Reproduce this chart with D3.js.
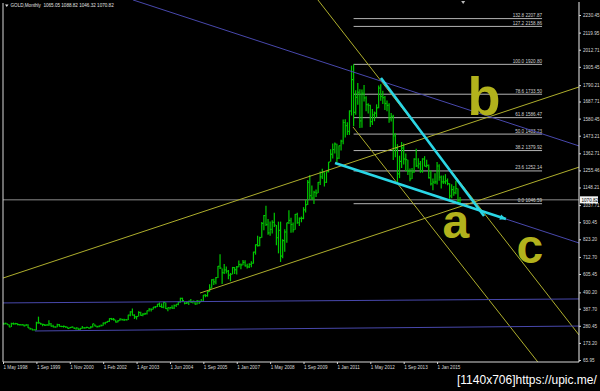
<html>
<head>
<meta charset="utf-8">
<script src="https://d3js.org/d3.v7.min.js"></script>
<style>
    body {
        margin: 0;
        background: #000;
    }

    svg {
        display: block;
    }

    text {
        font-family: "Liberation Sans", "DejaVu Sans", sans-serif;
    }
</style>
</head>

<body>
<div id="chart"></div>

<script>
    // GOLD monthly bars, one entry per bar
    var barHigh = [
        301, 300, 297, 289, 300, 301, 299, 296, 292, 291, 290, 291, 290, 268, 263, 258,
        306, 338, 300, 294, 292, 290, 316, 298, 287, 278, 294, 292, 281, 282, 278, 274,
        271, 276, 272, 269, 268, 267, 279, 272, 274, 271, 278, 293, 291, 281, 283, 288,
        302, 304, 310, 328, 330, 330, 318, 316, 326, 325, 325, 323, 350, 372, 389, 353,
        342, 372, 368, 359, 362, 376, 391, 389, 399, 405, 417, 427, 420, 431, 427, 396,
        397, 409, 414, 416, 430, 456, 457, 430, 432, 437, 449, 438, 436, 443, 439, 448,
        474, 479, 497, 541, 573, 575, 587, 655, 730, 640, 669, 652, 630, 612, 650, 649,
        656, 690, 672, 693, 692, 670, 673, 685, 745, 791, 845, 839, 931, 975, 1033, 950,
        935, 943, 989, 913, 934, 934, 823, 887, 927, 1006, 959, 929, 982, 990, 960, 966,
        1025, 1071, 1195, 1227, 1161, 1128, 1135, 1183, 1249, 1266, 1244, 1249, 1308, 1388, 1424, 1431,
        1423, 1412, 1448, 1575, 1577, 1557, 1632, 1913, 1921, 1758, 1804, 1764, 1763, 1791, 1721, 1676,
        1667, 1640, 1625, 1670, 1788, 1796, 1755, 1723, 1694, 1676, 1616, 1605, 1488, 1420, 1348, 1434,
        1424, 1361, 1322, 1267, 1270, 1332, 1392, 1331, 1315, 1332, 1345, 1323, 1292, 1255, 1205, 1238,
        1308, 1294, 1224, 1224, 1232, 1205, 1175, 1169, 1157, 1191, 1142, 1088.82
    ];
    var barLow = [
        289, 289, 287, 271, 273, 288, 289, 284, 283, 283, 278, 280, 267, 256, 253, 252,
        253, 294, 288, 278, 280, 281, 280, 276, 272, 269, 272, 276, 272, 269, 269, 263,
        263, 267, 262, 255, 256, 254, 263, 264, 265, 264, 264, 270, 277, 270, 271, 277,
        281, 289, 300, 305, 316, 313, 302, 302, 311, 313, 310, 315, 317, 341, 345, 323,
        320, 339, 344, 340, 348, 351, 370, 370, 382, 390, 398, 399, 393, 391, 386, 372,
        383, 387, 386, 398, 410, 425, 432, 415, 418, 411, 425, 420, 414, 414, 418, 431,
        433, 460, 463, 494, 515, 536, 541, 580, 637, 543, 605, 609, 573, 560, 603, 606,
        603, 648, 636, 661, 653, 640, 643, 648, 670, 727, 778, 780, 833, 880, 906, 852,
        845, 859, 900, 786, 735, 681, 705, 745, 801, 919, 865, 866, 883, 920, 906, 930,
        949, 992, 1038, 1075, 1072, 1045, 1088, 1114, 1164, 1201, 1155, 1177, 1243, 1309, 1330, 1361,
        1308, 1327, 1381, 1420, 1462, 1478, 1478, 1600, 1533, 1604, 1668, 1522, 1523, 1688, 1627, 1612,
        1527, 1540, 1564, 1588, 1646, 1692, 1672, 1635, 1626, 1555, 1562, 1321, 1338, 1180, 1207, 1270,
        1292, 1251, 1226, 1187, 1202, 1240, 1277, 1268, 1240, 1241, 1281, 1273, 1205, 1160, 1131, 1170,
        1167, 1191, 1142, 1170, 1169, 1162, 1077, 1080, 1097, 1106, 1052, 1046.32
    ];
    var barClose = [
        293, 296, 288, 273, 294, 292, 294, 288, 287, 287, 280, 286, 268, 262, 255, 255,
        299, 299, 292, 289, 284, 286, 293, 278, 274, 273, 288, 277, 276, 277, 273, 264,
        270, 273, 265, 267, 258, 264, 267, 268, 271, 266, 273, 293, 279, 275, 279, 282,
        297, 302, 308, 326, 322, 318, 304, 312, 323, 319, 318, 318, 347, 368, 347, 336,
        339, 364, 346, 354, 357, 375, 385, 384, 398, 400, 416, 402, 397, 427, 388, 394,
        395, 391, 408, 415, 429, 452, 438, 422, 425, 435, 429, 435, 417, 436, 429, 434,
        473, 470, 495, 517, 569, 556, 583, 654, 643, 614, 632, 624, 599, 604, 646, 632,
        650, 665, 662, 679, 657, 650, 666, 673, 743, 789, 783, 834, 923, 972, 916, 864,
        885, 930, 913, 833, 880, 718, 815, 869, 927, 942, 916, 883, 979, 927, 954, 955,
        1008, 1040, 1181, 1097, 1082, 1118, 1113, 1180, 1215, 1244, 1181, 1247, 1308, 1357, 1386, 1421,
        1332, 1410, 1439, 1556, 1536, 1500, 1628, 1825, 1620, 1714, 1746, 1566, 1740, 1710, 1668, 1663,
        1561, 1604, 1615, 1648, 1772, 1719, 1712, 1675, 1663, 1578, 1595, 1472, 1393, 1234, 1312, 1396,
        1327, 1323, 1250, 1202, 1244, 1326, 1284, 1296, 1250, 1327, 1282, 1287, 1209, 1171, 1182, 1184,
        1283, 1213, 1183, 1183, 1190, 1172, 1095, 1135, 1115, 1142, 1065, 1070.82
    ];

    var title = "GOLD,Monthly  1065.05 1088.82 1046.32 1070.82";
    var lastPrice = 1070.82;

    var priceTicks = [2230.45, 2119.95, 2012.71, 1905.45, 1790.21, 1687.71, 1580.45, 1473.21, 1362.71,
        1255.46, 1148.21, 1037.71, 930.45, 823.20, 712.70, 605.45, 490.20, 387.70, 280.45, 173.20, 65.95];

    // a date label every 16 bars
    var dateLabels = ["1 May 1998", "1 Sep 1999", "1 Nov 2000", "1 Feb 2002", "1 Apr 2003", "1 Jun 2004",
        "1 Sep 2005", "1 Jan 2007", "1 May 2008", "1 Sep 2009", "1 Jan 2011", "1 May 2012", "1 Sep 2013", "1 Jan 2015"];

    // fibonacci retracement from the 2011 top
    var fibLevels = ["132.8", "127.2", "100.0", "78.6", "61.8", "50.0", "38.2", "23.6", "0.0"];
    var fibPrices = [2207.87, 2158.86, 1920.80, 1733.50, 1586.47, 1483.23, 1379.92, 1252.14, 1046.59];
    var fibBars = [168, 258.3];

    // drawn objects as [bar, price] end points
    var yellowLines = [
        [[0, 580], [276, 1779]],
        [[94.4, 486], [276, 1276]],
        [[150.9, 2325], [276, 223]],
        [[167.7, 1528], [256.3, 53]]
    ];
    var blueLines = [
        [[62.3, 2325], [276, 1409]],
        [[159.1, 1302], [276, 800]],
        [[0, 424], [276, 449]],
        [[15.3, 248], [276, 279]]
    ];
    var cyanLines = [
        [[181.1, 1835], [230.5, 969]],
        [[159.1, 1302], [241.0, 951]]
    ];

    // hand written wave letters
    var waveLetters = ["b", "a", "c"];
    var waveBars = [230.5, 217.0, 252.5];
    var wavePrices = [1603, 831, 675];

    var width = 600;
    var height = 391;
    var plotLeft = 3, plotRight = 579, plotTop = 2, plotBottom = 362;

    var x = d3.scaleLinear().domain([0, 276]).range([plotLeft, plotRight]);
    var y = d3.scaleLinear().domain([65.95, 2230.45]).range([360, 15]);

    var svg = d3.select("#chart").append("svg")
        .attr("width", width)
        .attr("height", height)
        .style("background", "#000");

    svg.append("clipPath")
        .attr("id", "plot")
        .append("rect")
        .attr("x", plotLeft)
        .attr("y", 0)
        .attr("width", plotRight - plotLeft)
        .attr("height", plotBottom);

    var g = svg.append("g").attr("clip-path", "url(#plot)");

    // last price line
    g.append("line")
        .attr("x1", plotLeft)
        .attr("x2", plotRight)
        .attr("y1", y(lastPrice))
        .attr("y2", y(lastPrice))
        .attr("stroke", "#8c8c8c")
        .attr("stroke-width", 1);

    // fibo levels
    fibPrices.forEach(function (p, i) {
        g.append("line")
            .attr("x1", x(fibBars[0]))
            .attr("x2", x(fibBars[1]))
            .attr("y1", y(p))
            .attr("y2", y(p))
            .attr("stroke", "#b4b4b4")
            .attr("stroke-width", 1);
        g.append("text")
            .attr("x", x(fibBars[1]))
            .attr("y", y(p) - 1.5)
            .attr("text-anchor", "end")
            .attr("font-size", "4.6px")
            .attr("fill", "#d0d0d0")
            .text(fibLevels[i] + " " + p.toFixed(2));
    });

    // bars: high-low line and close tick
    var bars = g.append("g")
        .attr("stroke", "#00c800")
        .attr("stroke-width", 1.2);
    bars.selectAll(".hl")
        .data(barHigh)
        .enter()
        .append("line")
        .attr("x1", function (d, i) { return x(i); })
        .attr("x2", function (d, i) { return x(i); })
        .attr("y1", function (d) { return y(d); })
        .attr("y2", function (d, i) { return y(barLow[i]); });
    bars.selectAll(".cl")
        .data(barClose)
        .enter()
        .append("line")
        .attr("x1", function (d, i) { return x(i); })
        .attr("x2", function (d, i) { return x(i) + 1.5; })
        .attr("y1", function (d) { return y(d); })
        .attr("y2", function (d) { return y(d); });

    function drawLines(list, color, w) {
        g.append("g").selectAll("line")
            .data(list)
            .enter()
            .append("line")
            .attr("x1", function (d) { return x(d[0][0]); })
            .attr("y1", function (d) { return y(d[0][1]); })
            .attr("x2", function (d) { return x(d[1][0]); })
            .attr("y2", function (d) { return y(d[1][1]); })
            .attr("stroke", color)
            .attr("stroke-width", w);
    }
    drawLines(yellowLines, "#aeae2c", 1);
    drawLines(blueLines, "#4848ac", 1);
    drawLines(cyanLines, "#2ad6e6", 2.6);

    // arrow head on the lower cyan line
    var tip = cyanLines[1][1], tail = cyanLines[1][0];
    var ang = Math.atan2(y(tip[1]) - y(tail[1]), x(tip[0]) - x(tail[0])) * 180 / Math.PI;
    g.append("path")
        .attr("d", "M0,0 L-6,-2.8 L-6,2.8 Z")
        .attr("fill", "#2ad6e6")
        .attr("transform", "translate(" + x(tip[0]) + "," + y(tip[1]) + ") rotate(" + ang + ")");

    // letters
    g.selectAll(".wave")
        .data(waveLetters)
        .enter()
        .append("text")
        .attr("x", function (d, i) { return x(waveBars[i]); })
        .attr("y", function (d, i) { return y(wavePrices[i]); })
        .attr("text-anchor", "middle")
        .attr("font-weight", "bold")
        .attr("font-size", function (d, i) { return i == 0 ? "54px" : "48px"; })
        .attr("fill", "#b2b21c")
        .text(function (d) { return d; });

    // frame
    svg.append("line")
        .attr("x1", plotLeft).attr("x2", plotLeft)
        .attr("y1", 3).attr("y2", plotBottom)
        .attr("stroke", "#d8d8d8");
    svg.append("line")
        .attr("x1", plotLeft).attr("x2", plotRight)
        .attr("y1", plotBottom).attr("y2", plotBottom)
        .attr("stroke", "#d8d8d8");
    svg.append("line")
        .attr("x1", plotRight).attr("x2", plotRight)
        .attr("y1", plotTop).attr("y2", plotBottom)
        .attr("stroke", "#f0f0f0");

    // price axis
    var yAxis = svg.append("g")
        .attr("transform", "translate(" + plotRight + ",0)")
        .call(d3.axisRight(y).tickValues(priceTicks).tickSize(2).tickPadding(2)
            .tickFormat(d3.format(".2f")));
    yAxis.select(".domain").remove();
    yAxis.selectAll("line").attr("stroke", "#d8d8d8");
    yAxis.selectAll("text")
        .attr("font-size", "4.6px")
        .attr("font-family", "Liberation Sans")
        .attr("fill", "#d8d8d8");

    // time axis
    var xAxis = svg.append("g")
        .attr("transform", "translate(0," + plotBottom + ")")
        .call(d3.axisBottom(x).tickValues(d3.range(0, 16 * dateLabels.length, 16)).tickSize(2).tickPadding(2)
            .tickFormat(function (d, i) { return dateLabels[i]; }));
    xAxis.select(".domain").remove();
    xAxis.selectAll("line").attr("stroke", "#d8d8d8");
    xAxis.selectAll("text")
        .attr("text-anchor", "start")
        .attr("font-size", "4.6px")
        .attr("font-family", "Liberation Sans")
        .attr("fill", "#d8d8d8");

    // last price marker
    svg.append("rect")
        .attr("x", plotRight + 1)
        .attr("y", y(lastPrice) - 3.5)
        .attr("width", 18)
        .attr("height", 7)
        .attr("fill", "#f4f4f4");
    svg.append("text")
        .attr("x", plotRight + 2.5)
        .attr("y", y(lastPrice) + 1.7)
        .attr("font-size", "4.6px")
        .attr("fill", "#000")
        .text(lastPrice.toFixed(2));

    // chart shift marker
    svg.append("path")
        .attr("d", "M-2,1 L2,1 L0,4 Z")
        .attr("fill", "#bbbbbb")
        .attr("transform", "translate(" + x(220.5) + ",0)");

    // title
    svg.append("path")
        .attr("d", "M5,4.5 L8.5,4.5 L6.75,7 Z")
        .attr("fill", "#e0e0e0");
    svg.append("text")
        .attr("x", 10.5)
        .attr("y", 7.3)
        .attr("font-size", "4.6px")
        .attr("fill", "#e0e0e0")
        .attr("xml:space", "preserve")
        .text(title);

    // host watermark
    svg.append("text")
        .attr("x", 457)
        .attr("y", 384)
        .attr("font-size", "12px")
        .attr("font-family", "Liberation Sans")
        .attr("fill", "#ffffff")
        .text("[1140x706]https://upic.me/");
</script>
</body>

</html>
